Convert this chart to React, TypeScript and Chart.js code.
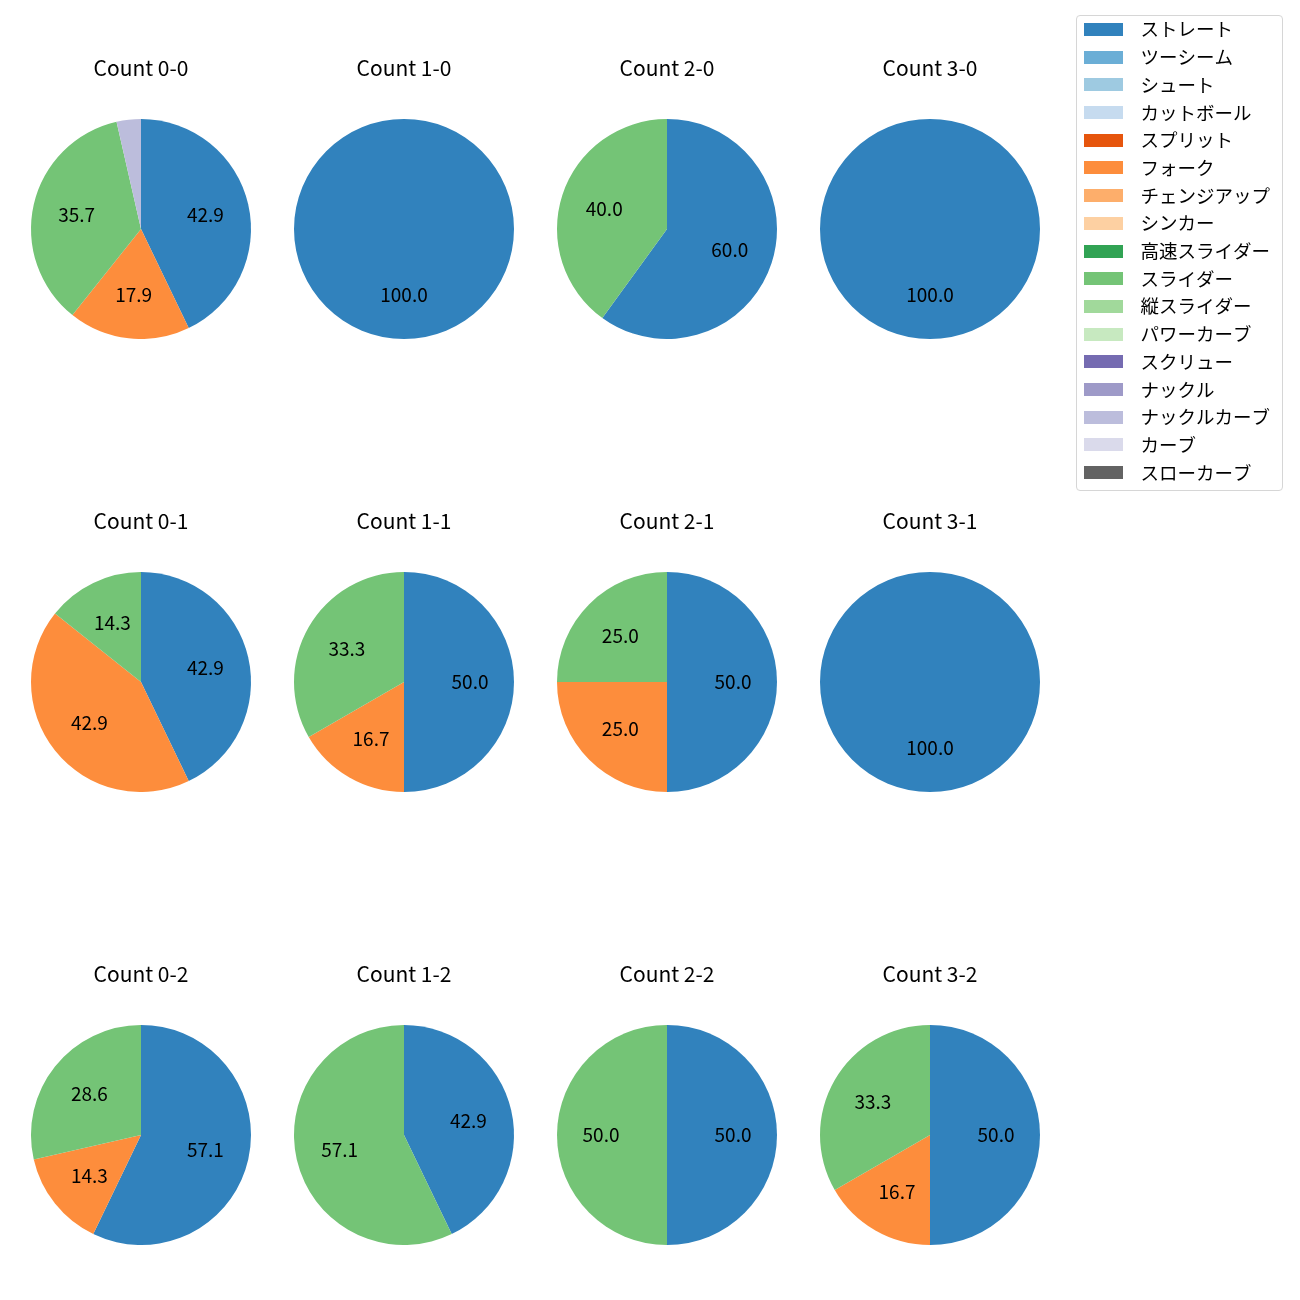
import React, { useEffect, useRef } from "react";
import { Chart, registerables } from "chart.js";

Chart.register(...registerables);

// ---- data ----
const pitchTypes = [
  "ストレート",
  "ツーシーム",
  "シュート",
  "カットボール",
  "スプリット",
  "フォーク",
  "チェンジアップ",
  "シンカー",
  "高速スライダー",
  "スライダー",
  "縦スライダー",
  "パワーカーブ",
  "スクリュー",
  "ナックル",
  "ナックルカーブ",
  "カーブ",
  "スローカーブ",
];

const pitchColors = [
  "#3182bd",
  "#6baed6",
  "#9ecae1",
  "#c6dbef",
  "#e6550d",
  "#fd8d3c",
  "#fdae6b",
  "#fdd0a2",
  "#31a354",
  "#74c476",
  "#a1d99b",
  "#c7e9c0",
  "#756bb1",
  "#9e9ac8",
  "#bcbddc",
  "#dadaeb",
  "#636363",
];

const countLabels = [
  "0-0", "1-0", "2-0", "3-0",
  "0-1", "1-1", "2-1", "3-1",
  "0-2", "1-2", "2-2", "3-2",
];

// pitch counts per ball-strike count (same order as countLabels)
const straightCounts = [12, 1, 3, 1, 3, 3, 2, 1, 4, 3, 1, 3];
const forkCounts = [5, 0, 0, 0, 3, 1, 1, 0, 1, 0, 0, 1];
const sliderCounts = [10, 0, 2, 0, 1, 2, 1, 0, 2, 4, 1, 2];
const knuckleCurveCounts = [1, 0, 0, 0, 0, 0, 0, 0, 0, 0, 0, 0];

const seriesByPitch: Record<string, number[]> = {
  "ストレート": straightCounts,
  "フォーク": forkCounts,
  "スライダー": sliderCounts,
  "ナックルカーブ": knuckleCurveCounts,
};

// ---- layout ----
const colCenters = [141, 404, 667, 930];
const rowCenters = [229, 682, 1135];
const PIE_R = 110;
const CANVAS_W = 262;
const CANVAS_H = 290;
const FONT_FAMILY = '"Noto Sans CJK JP", "Noto Sans", sans-serif';

const pctLabelPlugin = {
  id: "pctLabels",
  afterDatasetsDraw(chart: any) {
    const ctx = chart.ctx as CanvasRenderingContext2D;
    const ds = chart.data.datasets[0];
    const values = ds.data as number[];
    const total = values.reduce((a, b) => a + b, 0);
    if (!total) return;
    const meta = chart.getDatasetMeta(0);
    ctx.save();
    ctx.font = `19px ${FONT_FAMILY}`;
    ctx.fillStyle = "#000";
    ctx.textAlign = "center";
    ctx.textBaseline = "middle";
    meta.data.forEach((arc: any, i: number) => {
      const v = values[i];
      if (!v) return;
      const pct = (v / total) * 100;
      if (pct < 5) return;
      const p = arc.getProps(["x", "y", "startAngle", "endAngle", "outerRadius"], true);
      const mid = (p.startAngle + p.endAngle) / 2;
      const r = p.outerRadius * 0.6;
      ctx.fillText(pct.toFixed(1), p.x + Math.cos(mid) * r, p.y + Math.sin(mid) * r);
    });
    ctx.restore();
  },
};

export default function App() {
  const pieRefs = useRef<(HTMLCanvasElement | null)[]>([]);
  const legendRef = useRef<HTMLCanvasElement | null>(null);

  useEffect(() => {
    Chart.defaults.font.family = FONT_FAMILY;
    const charts: Chart[] = [];

    countLabels.forEach((label, k) => {
      const canvas = pieRefs.current[k];
      if (!canvas) return;
      const values = pitchTypes.map((p) => (seriesByPitch[p] ? seriesByPitch[p][k] : 0));
      charts.push(
        new Chart(canvas, {
          type: "pie",
          data: {
            labels: pitchTypes,
            datasets: [
              {
                data: values,
                backgroundColor: pitchColors,
                borderWidth: 0,
                hoverOffset: 0,
                radius: PIE_R,
              } as any,
            ],
          },
          options: {
            responsive: false,
            animation: false,
            events: [],
            layout: { padding: { left: 21, right: 21, top: 0, bottom: 0 } },
            plugins: {
              legend: { display: false },
              tooltip: { enabled: false },
              title: {
                display: true,
                text: `Count ${label}`,
                color: "#000",
                font: { size: 21, weight: "normal" as any, family: FONT_FAMILY },
                padding: { top: 6.2, bottom: 38.6 },
              },
            },
          },
          plugins: [pctLabelPlugin],
        })
      );
    });

    // legend patches (39x13 rectangles) used as point styles
    const patches = pitchColors.map((c) => {
      const cv = document.createElement("canvas");
      cv.width = 39;
      cv.height = 13;
      const g = cv.getContext("2d")!;
      g.fillStyle = c;
      g.fillRect(0, 0, 39, 13);
      return cv;
    });

    if (legendRef.current) {
      charts.push(
        new Chart(legendRef.current, {
          type: "pie",
          data: {
            labels: pitchTypes,
            datasets: [
              {
                data: pitchTypes.map(() => 0),
                backgroundColor: pitchColors,
                borderWidth: 0,
              },
            ],
          },
          options: {
            responsive: false,
            animation: false,
            events: [],
            layout: { padding: 0 },
            plugins: {
              tooltip: { enabled: false },
              legend: {
                display: true,
                position: "left",
                align: "start",
                labels: {
                  usePointStyle: true,
                  pointStyleWidth: 56,
                  boxHeight: 13,
                  padding: 9.2,
                  color: "#000",
                  font: { size: 18.5, family: FONT_FAMILY },
                  generateLabels: () =>
                    pitchTypes.map((t, i) => ({
                      text: t,
                      fillStyle: pitchColors[i],
                      strokeStyle: pitchColors[i],
                      lineWidth: 0,
                      hidden: false,
                      index: i,
                      datasetIndex: 0,
                      pointStyle: patches[i] as any,
                      fontColor: "#000",
                    })),
                },
              },
            },
          },
        })
      );
    }

    return () => charts.forEach((c) => c.destroy());
  }, []);

  return (
    <div
      style={{
        position: "absolute",
        left: 0,
        top: 0,
        width: 1300,
        height: 1300,
        overflow: "hidden",
        background: "#fff",
      }}
    >
      {countLabels.map((label, k) => {
        const cx = colCenters[k % 4];
        const cy = rowCenters[Math.floor(k / 4)];
        return (
          <canvas
            key={label}
            ref={(el) => {
              pieRefs.current[k] = el;
            }}
            width={CANVAS_W}
            height={CANVAS_H}
            style={{
              position: "absolute",
              left: cx - CANVAS_W / 2,
              top: cy - 180,
              width: CANVAS_W,
              height: CANVAS_H,
            }}
          />
        );
      })}
      <div
        style={{
          position: "absolute",
          left: 1076,
          top: 15,
          width: 207,
          height: 476,
          boxSizing: "border-box",
          border: "1px solid #d6d6d6",
          borderRadius: 4,
          background: "#fff",
        }}
      />
      <canvas
        ref={legendRef}
        width={460}
        height={500}
        style={{ position: "absolute", left: 1066, top: 11, width: 460, height: 500 }}
      />
    </div>
  );
}
